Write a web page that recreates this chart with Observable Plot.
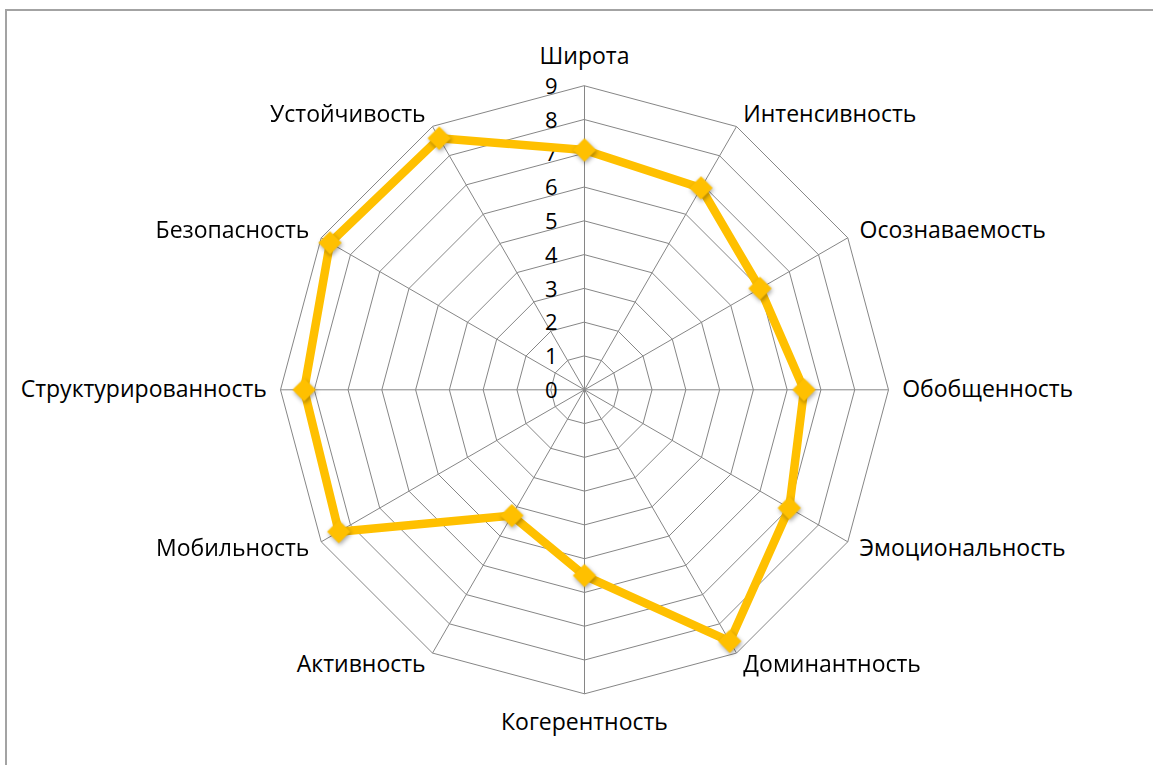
<!DOCTYPE html>
<html>
<head>
<meta charset="utf-8">
<script src="https://cdn.jsdelivr.net/npm/d3@7"></script>
<script src="https://cdn.jsdelivr.net/npm/@observablehq/plot@0.6"></script>
<style>
  html, body { margin: 0; padding: 0; background: #fff; }
  #wrap { position: relative; width: 1153px; height: 765px; overflow: hidden; }
  #frame { position: absolute; left: 5px; top: 9px; width: 1300px; height: 900px;
           border-left: 2px solid #a3a3a3; border-top: 2px solid #a3a3a3; box-sizing: border-box; }
  #chart { position: absolute; left: 0; top: 0; }
  #chart text { font-family: "Open Sans", sans-serif; }
</style>
</head>
<body>
<div id="wrap"><div id="frame"></div><div id="chart"></div></div>
<script>
const categories = ["Широта", "Интенсивность", "Осознаваемость", "Обобщенность", "Эмоциональность", "Доминантность",
                    "Когерентность", "Активность", "Мобильность", "Структурированность", "Безопасность", "Устойчивость"];
const values = [7.1, 6.9, 6.0, 6.5, 7.0, 8.6, 5.5, 4.3, 8.4, 8.3, 8.7, 8.6];
const tickValues = [0, 1, 2, 3, 4, 5, 6, 7, 8, 9];
const maxValue = 9;

const n = categories.length;
const angle = i => (i * 2 * Math.PI) / n;

const points = values.map((v, i) => ({name: categories[i], v, x: v * Math.sin(angle(i)), y: v * Math.cos(angle(i))}));
const rings = tickValues.filter(t => t > 0).flatMap(t =>
  categories.map((c, i) => ({level: t, x: t * Math.sin(angle(i)), y: t * Math.cos(angle(i))})));
const spokes = categories.map((c, i) => ({x2: maxValue * Math.sin(angle(i)), y2: maxValue * Math.cos(angle(i))}));
const labelR = maxValue * 1.045;
const labels = categories.map((c, i) => {
  const s = Math.sin(angle(i)), co = Math.cos(angle(i));
  return {name: c, x: labelR * s, y: labelR * co, side: Math.abs(s) < 1e-6 ? "mid" : (s > 0 ? "right" : "left"), top: co > 0};
});
const tickLabels = tickValues.map(t => ({t}));

const cx = 584, cy = 389.3, R = 304;
const W = 1153, H = 765;
const FS = 23;

const chart = Plot.plot({
  width: W,
  height: H,
  marginLeft: cx - R,
  marginRight: W - (cx + R),
  marginTop: cy - R,
  marginBottom: H - (cy + R),
  x: {domain: [-maxValue, maxValue], axis: null},
  y: {domain: [-maxValue, maxValue], axis: null},
  style: {fontSize: FS + "px", fontFamily: "Open Sans, sans-serif", color: "#000", background: "transparent", overflow: "visible"},
  marks: [
    Plot.line(rings, {x: "x", y: "y", z: "level", curve: "linear-closed", stroke: "#868686", strokeWidth: 1}),
    Plot.link(spokes, {x1: 0, y1: 0, x2: "x2", y2: "y2", stroke: "#868686", strokeWidth: 1}),
    Plot.text(tickLabels, {x: 0, y: "t", text: d => String(d.t), textAnchor: "end", dx: -27, dy: 1, fill: "#000", fontSize: 22}),
    Plot.line(points, {x: "x", y: "y", curve: "linear-closed", stroke: "#FFC000", strokeWidth: 8.5, strokeLinejoin: "round"}),
    Plot.dot(points, {x: "x", y: "y", symbol: "diamond2", r: 10.5, fill: "#FFC000", stroke: "none"}),
    Plot.text(labels.filter(d => d.side === "right"), {x: "x", y: "y", text: "name", textAnchor: "start", fill: "#000", fontSize: FS}),
    Plot.text(labels.filter(d => d.side === "left"), {x: "x", y: "y", text: "name", textAnchor: "end", fill: "#000", fontSize: FS}),
    Plot.text(labels.filter(d => d.side === "mid"), {x: "x", y: "y", text: "name", textAnchor: "middle", fill: "#000", fontSize: FS})
  ]
});

document.getElementById("chart").appendChild(chart);

// shadow on markers
d3.select(chart).selectAll("g[aria-label='dot']").style("filter", "drop-shadow(1px 2px 2px rgba(0,0,0,0.35))");
// offset the middle labels outward (top goes up, bottom goes down)
const textGroups = d3.select(chart).selectAll("g[aria-label='text']").nodes();
const midGroup = textGroups[textGroups.length - 1];
const midItems = labels.filter(l => l.side === "mid");
d3.select(midGroup).selectAll("text").each(function (d, i) {
  const item = midItems[i];
  const t = d3.select(this);
  const cur = t.attr("transform");
  t.attr("transform", (cur || "") + (item.top ? " translate(0,-15)" : " translate(0,15)"));
});
</script>
</body>
</html>
